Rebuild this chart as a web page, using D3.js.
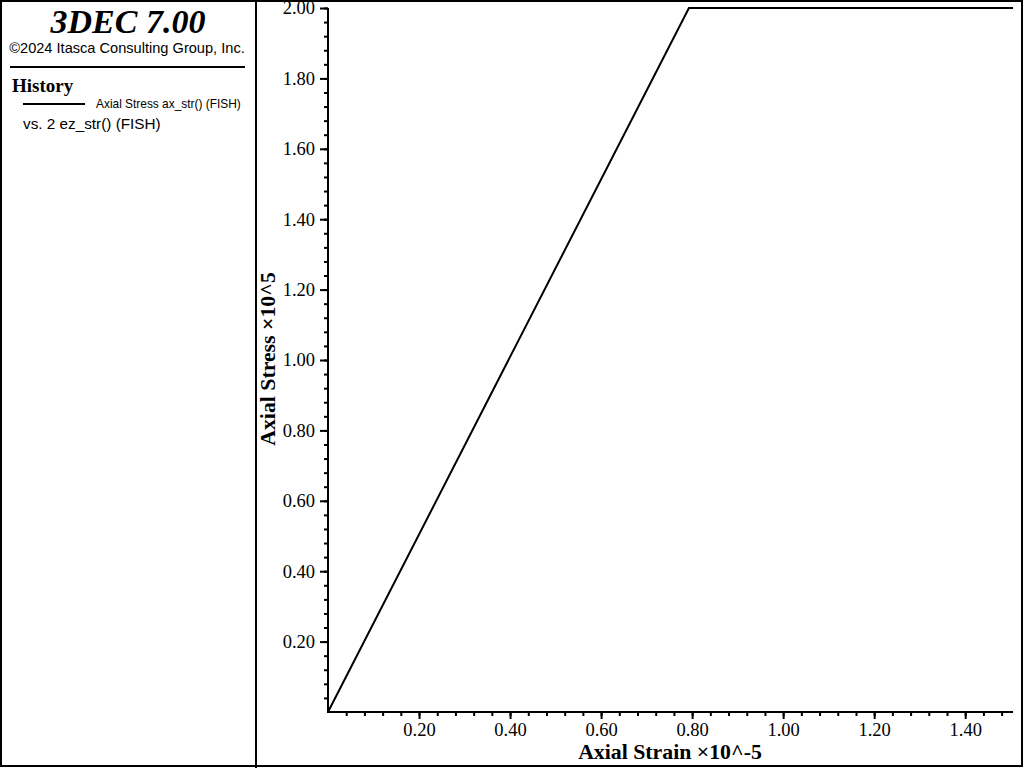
<!DOCTYPE html>
<html><head><meta charset="utf-8">
<script src="https://cdn.jsdelivr.net/npm/d3@7"></script>
<style>html,body{margin:0;padding:0;background:#fff;overflow:hidden}</style>
</head><body>
<script>
// Data (strain ×10^-5, stress ×10^5)
const strain = [0.0, 0.793, 1.505];
const stress = [0.0, 2.0, 2.0];
const xTicks = [0.2, 0.4, 0.6, 0.8, 1.0, 1.2, 1.4];
const yTicks = [0.2, 0.4, 0.6, 0.8, 1.0, 1.2, 1.4, 1.6, 1.8, 2.0];
const xDomain = [0, 1.505];
const yDomain = [0, 2.0];

const W = 1024, H = 768;
const svg = d3.select("body").append("svg").attr("width", W).attr("height", H);
svg.append("rect").attr("width", W).attr("height", H).attr("fill", "#fff");

// frame
svg.append("rect").attr("x", 1).attr("y", 1).attr("width", 1021).attr("height", 765)
  .attr("fill", "none").attr("stroke", "#000").attr("stroke-width", 2);
svg.append("line").attr("x1", 256).attr("x2", 256).attr("y1", 0).attr("y2", H)
  .attr("stroke", "#000").attr("stroke-width", 2);

// left panel
const serif = "'Liberation Serif','Times New Roman',serif";
const sans = "'Liberation Sans',Arial,sans-serif";
svg.append("text").attr("x", 128).attr("y", 33).attr("text-anchor", "middle")
  .attr("font-family", serif).attr("font-weight", "bold").attr("font-style", "italic")
  .attr("font-size", 34).text("3DEC 7.00");
svg.append("text").attr("x", 127).attr("y", 53).attr("text-anchor", "middle")
  .attr("font-family", sans).attr("font-size", 14.6).text("©2024 Itasca Consulting Group, Inc.");
svg.append("line").attr("x1", 10).attr("x2", 245).attr("y1", 67).attr("y2", 67)
  .attr("stroke", "#000").attr("stroke-width", 2);
svg.append("text").attr("x", 12).attr("y", 92)
  .attr("font-family", serif).attr("font-weight", "bold").attr("font-size", 19).text("History");
svg.append("line").attr("x1", 23).attr("x2", 85).attr("y1", 104).attr("y2", 104)
  .attr("stroke", "#000").attr("stroke-width", 2);
svg.append("text").attr("x", 96).attr("y", 108)
  .attr("font-family", sans).attr("font-size", 11.9).text("Axial Stress ax_str() (FISH)");
svg.append("text").attr("x", 23).attr("y", 129)
  .attr("font-family", sans).attr("font-size", 15.3).text("vs. 2 ez_str() (FISH)");

// plot
const x = d3.scaleLinear().domain(xDomain).range([328, 1013]);
const y = d3.scaleLinear().domain(yDomain).range([712, 8]);

// y axis
const gy = svg.append("g").attr("transform", "translate(328,0)");
gy.call(d3.axisLeft(y).tickValues(d3.range(0.04, 2.0001, 0.04)).tickSize(4).tickFormat(""));
gy.selectAll(".tick line").attr("stroke-width", 2);
const gy2 = svg.append("g").attr("transform", "translate(328,0)");
gy2.call(d3.axisLeft(y).tickValues(yTicks).tickSize(8).tickPadding(5).tickFormat(d3.format(".2f")));
gy2.selectAll(".tick line").attr("stroke-width", 2);
gy2.selectAll(".tick text").attr("font-family", serif).attr("font-size", 18.5).attr("fill", "#000");
[gy, gy2].forEach(g => g.select(".domain").remove());
svg.append("line").attr("x1", 328).attr("x2", 328).attr("y1", y(2.0)).attr("y2", 713)
  .attr("stroke", "#000").attr("stroke-width", 2);

// x axis
const gx = svg.append("g").attr("transform", "translate(0,712)");
gx.call(d3.axisBottom(x).tickValues(d3.range(0.04, 1.5, 0.04)).tickSize(4).tickFormat(""));
gx.selectAll(".tick line").attr("stroke-width", 2);
const gx2 = svg.append("g").attr("transform", "translate(0,712)");
gx2.call(d3.axisBottom(x).tickValues(xTicks).tickSize(7).tickPadding(4).tickFormat(d3.format(".2f")));
gx2.selectAll(".tick line").attr("stroke-width", 2);
gx2.selectAll(".tick text").attr("font-family", serif).attr("font-size", 18.5).attr("fill", "#000");
[gx, gx2].forEach(g => g.select(".domain").remove());
svg.append("line").attr("x1", 327).attr("x2", x(xDomain[1])).attr("y1", 712).attr("y2", 712)
  .attr("stroke", "#000").attr("stroke-width", 2);

// axis titles
svg.append("text").attr("transform", "translate(275,359) rotate(-90)").attr("text-anchor", "middle")
  .attr("font-family", serif).attr("font-weight", "bold").attr("font-size", 21.8).text("Axial Stress ×10^5");
svg.append("text").attr("x", 670).attr("y", 759).attr("text-anchor", "middle")
  .attr("font-family", serif).attr("font-weight", "bold").attr("font-size", 21.8).text("Axial Strain ×10^-5");

// line
const pts = strain.map((d, i) => [d, stress[i]]);
svg.append("path").datum(pts)
  .attr("d", d3.line().x(d => x(d[0])).y(d => y(d[1])))
  .attr("fill", "none").attr("stroke", "#000").attr("stroke-width", 2);
</script>
</body></html>
